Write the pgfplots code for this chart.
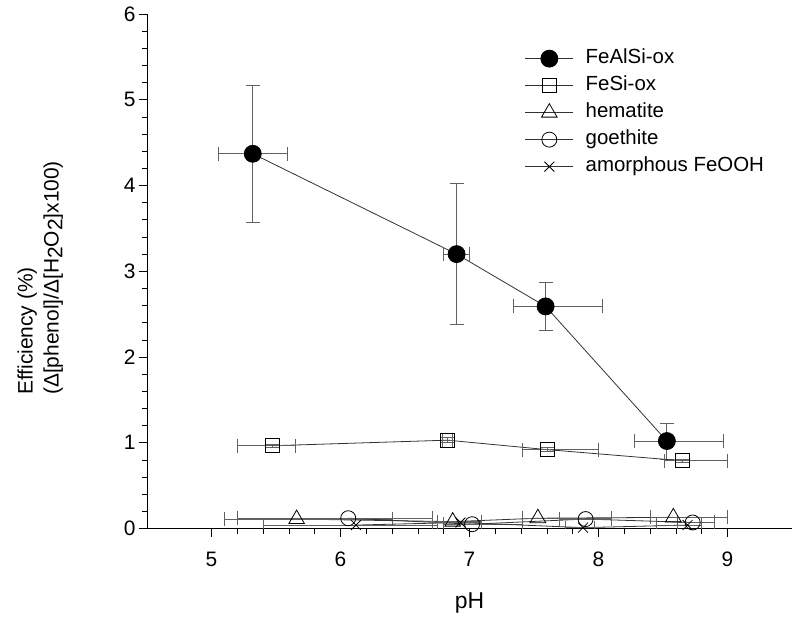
\documentclass[border=0pt]{standalone}
\usepackage{fontspec}
\setmainfont{Liberation Sans}
\usepackage{pgfplots}
\pgfplotsset{compat=1.18}
\definecolor{errgray}{gray}{0.38}
\definecolor{linegray}{gray}{0.2}
\begin{document}
\begin{tikzpicture}
\useasboundingbox (0,0) rectangle (800bp,619bp);
\begin{axis}[
  at={(147bp,90.5bp)}, anchor=south west,
  scale only axis, width=645bp, height=514.5bp,
  xmin=4.5, xmax=9.5, ymin=0, ymax=6,
  axis lines*=left, axis line style={-, line width=0.8bp},
  xtick={5,6,7,8,9}, ytick={0,1,2,3,4,5,6},
  minor x tick num=4, minor y tick num=4,
  tick align=outside, major tick length=8bp, minor tick length=5bp,
  tick style={black, line width=0.7bp},
  ticklabel style={font=\fontsize{21}{25}\selectfont},
  xticklabel style={yshift=-12bp},
  /pgf/number format/assume math mode=true,
  xlabel={pH},
  xlabel style={at={(axis description cs:0.5,-0.125)}, anchor=north, inner sep=0pt, font=\fontsize{23}{27}\selectfont},
  ylabel={Efficiency (\%)\\(Δ[phenol]/Δ[H\raisebox{-0.35ex}{2}O\raisebox{-0.35ex}{2}]x100)},
  ylabel style={align=left, at={(axis description cs:-0.13,0.487)}, anchor=south, inner sep=0pt, font=\fontsize{21}{26}\selectfont},
  legend style={at={(rel axis cs:0.581,0.935)}, anchor=north west, draw=none, fill=none,
    font=\fontsize{20.5}{24}\selectfont, row sep=9bp, legend cell align=left,
    nodes={inner sep=0bp, text height=14bp, text depth=4bp},
    /tikz/every odd column/.append style={column sep=12bp}},
  legend image code/.code={\draw[mark repeat=2,mark phase=2] plot coordinates {(0bp,0bp) (24bp,0bp) (48bp,0bp)};},
  error bars/error bar style={errgray, line width=0.8bp},
  error bars/error mark options={rotate=90, errgray, line width=0.8bp, mark size=7bp},
]
% FeAlSi-ox
\addplot[linegray, line width=0.8bp, mark=*, mark size=8.5bp, mark options={fill=black, draw=black, solid},
  error bars/.cd, x dir=both, x explicit, y dir=both, y explicit]
coordinates {
(5.32,4.37) +- (0.27,0.80)
(6.90,3.20) +- (0.10,0.82)
(7.59,2.59) += (0.44,0.28) -= (0.25,0.28)
(8.53,1.02) += (0.44,0.21) -= (0.25,0.21)
};
\addlegendentry{FeAlSi-ox}
% FeSi-ox
\addplot[linegray, line width=0.8bp, mark=square, mark size=7bp, mark options={solid, draw=black, fill=none},
  error bars/.cd, x dir=both, x explicit, y dir=both, y explicit]
coordinates {
(5.47,0.965) += (0.18,0.02) -= (0.27,0.02)
(6.83,1.03) +- (0.04,0.03)
(7.60,0.92) += (0.40,0.02) -= (0.19,0.02)
(8.65,0.79) += (0.35,0.02) -= (0.14,0.02)
};
\addlegendentry{FeSi-ox}
% hematite
\addplot[linegray, line width=0.8bp, mark=triangle, mark size=9bp, mark options={solid, draw=black, fill=none},
  error bars/.cd, x dir=both, x explicit, y dir=none]
coordinates {
(5.66,0.11) += (0.74,0) -= (0.56,0)
(6.87,0.08) += (0.22,0) -= (0.12,0)
(7.53,0.12) += (0.57,0) -= (0.12,0)
(8.58,0.13) += (0.42,0) -= (0.18,0)
};
\addlegendentry{hematite}
% goethite
\addplot[linegray, line width=0.8bp, mark=o, mark size=7.5bp, mark options={solid, draw=black, fill=none},
  error bars/.cd, x dir=both, x explicit, y dir=none]
coordinates {
(6.06,0.12) += (0.65,0) -= (0.86,0)
(7.02,0.05) += (0.39,0) -= (0.22,0)
(7.90,0.11) += (0.20,0) -= (0.20,0)
(8.73,0.07) += (0.17,0) -= (0.12,0)
};
\addlegendentry{goethite}
% amorphous FeOOH
\addplot[linegray, line width=0.8bp, mark=x, mark size=7bp, mark options={solid, draw=black},
  error bars/.cd, x dir=both, x explicit, y dir=none]
coordinates {
(6.12,0.04) += (0.63,0) -= (0.72,0)
(6.93,0.07) += (0.16,0) -= (0.22,0)
(7.88,0.01) += (0.09,0) -= (0.14,0)
(8.69,0.04) += (0.11,0) -= (0.24,0)
};
\addlegendentry{amorphous FeOOH}
\end{axis}
\end{tikzpicture}
\end{document}
